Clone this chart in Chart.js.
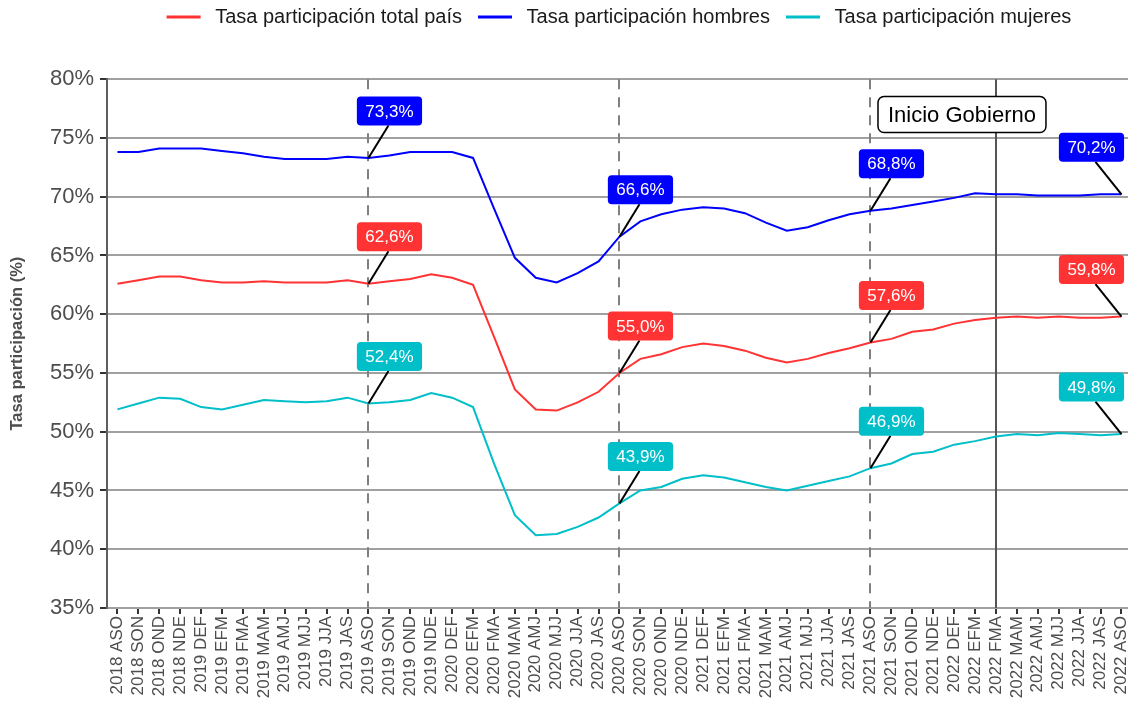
<!DOCTYPE html>
<html>
<head>
<meta charset="utf-8">
<script src="https://cdn.jsdelivr.net/npm/chart.js@4"></script>
<style>
  html, body { margin: 0; padding: 0; background: #fff; overflow: hidden; }
  #wrap { width: 1144px; height: 706px; }
</style>
</head>
<body>
<div id="wrap"><canvas id="c" width="1144" height="706"></canvas></div>
<script>
var periodos = [
    '2018 ASO', '2018 SON', '2018 OND', '2018 NDE',
    '2019 DEF', '2019 EFM', '2019 FMA', '2019 MAM', '2019 AMJ', '2019 MJJ', '2019 JJA', '2019 JAS',
    '2019 ASO', '2019 SON', '2019 OND', '2019 NDE',
    '2020 DEF', '2020 EFM', '2020 FMA', '2020 MAM', '2020 AMJ', '2020 MJJ', '2020 JJA', '2020 JAS',
    '2020 ASO', '2020 SON', '2020 OND', '2020 NDE',
    '2021 DEF', '2021 EFM', '2021 FMA', '2021 MAM', '2021 AMJ', '2021 MJJ', '2021 JJA', '2021 JAS',
    '2021 ASO', '2021 SON', '2021 OND', '2021 NDE',
    '2022 DEF', '2022 EFM', '2022 FMA', '2022 MAM', '2022 AMJ', '2022 MJJ', '2022 JJA', '2022 JAS',
    '2022 ASO'
];

var tasaTotal = [
    62.6, 62.9, 63.2, 63.2, 62.9, 62.7, 62.7, 62.8, 62.7, 62.7, 62.7, 62.9,
    62.6, 62.8, 63.0, 63.4, 63.1, 62.5, 58.1, 53.6, 51.9, 51.8, 52.5, 53.4,
    55.0, 56.2, 56.6, 57.2, 57.5, 57.3, 56.9, 56.3, 55.9, 56.2, 56.7, 57.1,
    57.6, 57.9, 58.5, 58.7, 59.2, 59.5, 59.7, 59.8, 59.7, 59.8, 59.7, 59.7, 59.8
];
var tasaHombres = [
    73.8, 73.8, 74.1, 74.1, 74.1, 73.9, 73.7, 73.4, 73.2, 73.2, 73.2, 73.4,
    73.3, 73.5, 73.8, 73.8, 73.8, 73.3, 69.0, 64.8, 63.1, 62.7, 63.5, 64.5,
    66.6, 67.9, 68.5, 68.9, 69.1, 69.0, 68.6, 67.8, 67.1, 67.4, 68.0, 68.5,
    68.8, 69.0, 69.3, 69.6, 69.9, 70.3, 70.2, 70.2, 70.1, 70.1, 70.1, 70.2, 70.2
];
var tasaMujeres = [
    51.9, 52.4, 52.9, 52.8, 52.1, 51.9, 52.3, 52.7, 52.6, 52.5, 52.6, 52.9,
    52.4, 52.5, 52.7, 53.3, 52.9, 52.1, 47.3, 42.9, 41.2, 41.3, 41.9, 42.7,
    43.9, 45.0, 45.3, 46.0, 46.3, 46.1, 45.7, 45.3, 45.0, 45.4, 45.8, 46.2,
    46.9, 47.3, 48.1, 48.3, 48.9, 49.2, 49.6, 49.8, 49.7, 49.9, 49.8, 49.7, 49.8
];

var yTicks = [35, 40, 45, 50, 55, 60, 65, 70, 75, 80];
var cortes = [12, 24, 36];          // ASO of each year (dashed)
var inicioGobierno = 42;            // 2022 FMA (solid)
var etiquetas = [12, 24, 36, 48];   // labelled points
var textoGobierno = 'Inicio Gobierno';
var yGobierno = 77;

Chart.defaults.font.family = '"Liberation Sans", Arial, sans-serif';

function fmt(v) {
    return v.toFixed(1).replace('.', ',') + '%';
}

function roundRect(ctx, x, y, w, h, r) {
    ctx.beginPath();
    ctx.moveTo(x + r, y);
    ctx.arcTo(x + w, y, x + w, y + h, r);
    ctx.arcTo(x + w, y + h, x, y + h, r);
    ctx.arcTo(x, y + h, x, y, r);
    ctx.arcTo(x, y, x + w, y, r);
    ctx.closePath();
}

var marcas = {
    id: 'marcas',
    beforeDatasetsDraw: function(chart) {
        var ctx = chart.ctx, a = chart.chartArea, x = chart.scales.x;
        ctx.save();
        ctx.lineWidth = 2;
        ctx.strokeStyle = '#808080';
        ctx.setLineDash([10, 8]);
        cortes.forEach(function(i) {
            var px = Math.round(x.getPixelForValue(i));
            ctx.beginPath();
            ctx.moveTo(px, a.top);
            ctx.lineTo(px, a.bottom);
            ctx.stroke();
        });
        ctx.setLineDash([]);
        ctx.strokeStyle = '#555555';
        var g = Math.round(x.getPixelForValue(inicioGobierno));
        ctx.beginPath();
        ctx.moveTo(g, a.top);
        ctx.lineTo(g, a.bottom);
        ctx.stroke();
        ctx.restore();
    },
    afterDatasetsDraw: function(chart) {
        var ctx = chart.ctx, x = chart.scales.x, y = chart.scales.y;
        var last = periodos.length - 1;
        ctx.save();
        ctx.font = '17px "Liberation Sans", Arial, sans-serif';
        ctx.textAlign = 'center';
        ctx.textBaseline = 'middle';
        chart.data.datasets.forEach(function(ds) {
            etiquetas.forEach(function(i) {
                var px = x.getPixelForValue(i);
                var py = y.getPixelForValue(ds.data[i]);
                var dx = (i === last) ? -30 : 21;
                var cx = px + dx, cy = py - 47;
                var txt = fmt(ds.data[i]);
                var w = ctx.measureText(txt).width + 17, h = 29;
                ctx.strokeStyle = '#000';
                ctx.lineWidth = 2;
                ctx.beginPath();
                ctx.moveTo(px, py);
                ctx.lineTo(px + (i === last ? -26 : 20), cy + h / 2);
                ctx.stroke();
                ctx.fillStyle = ds.borderColor;
                roundRect(ctx, cx - w / 2, cy - h / 2, w, h, 4);
                ctx.fill();
                ctx.fillStyle = '#ffffff';
                ctx.fillText(txt, cx, cy + 1);
            });
        });
        // caja "Inicio Gobierno"
        ctx.font = '22px "Liberation Sans", Arial, sans-serif';
        var gx = x.getPixelForValue(inicioGobierno) - 34;
        var gy = y.getPixelForValue(yGobierno);
        var gw = ctx.measureText(textoGobierno).width + 20, gh = 36;
        roundRect(ctx, gx - gw / 2, gy - gh / 2, gw, gh, 6);
        ctx.fillStyle = '#ffffff';
        ctx.fill();
        ctx.lineWidth = 1.5;
        ctx.strokeStyle = '#000';
        ctx.stroke();
        ctx.fillStyle = '#000';
        ctx.fillText(textoGobierno, gx, gy + 1);
        ctx.restore();
    }
};

function serie(label, data, color) {
    return {
        label: label,
        data: data,
        borderColor: color,
        backgroundColor: color,
        borderWidth: 2,
        pointRadius: 0,
        tension: 0,
        fill: false
    };
}

var chart = new Chart(document.getElementById('c').getContext('2d'), {
    type: 'line',
    data: {
        labels: periodos,
        datasets: [
            serie('Tasa participación total país', tasaTotal, '#ff3333'),
            serie('Tasa participación hombres', tasaHombres, '#0000ff'),
            serie('Tasa participación mujeres', tasaMujeres, '#00bfc9')
        ]
    },
    options: {
        responsive: false,
        animation: false,
        layout: { padding: { top: -10, right: 0, left: 0, bottom: 0 } },
        plugins: {
            legend: {
                position: 'top',
                fullSize: false,
                labels: {
                    boxWidth: 32,
                    boxHeight: 1,
                    padding: 17,
                    color: '#1a1a1a',
                    font: { size: 20 },
                    generateLabels: function(chart) {
                        var items = Chart.defaults.plugins.legend.labels.generateLabels(chart);
                        items.forEach(function(it) { it.text = ' ' + it.text; });
                        return items;
                    }
                }
            },
            title: {
                display: true,
                text: '',
                weight: 100,
                font: { size: 1 },
                padding: { top: 0, bottom: 41 }
            },
            tooltip: { enabled: false }
        },
        scales: {
            x: {
                offset: true,
                afterFit: function(s) { s.height = 98; },
                grid: { display: true, drawOnChartArea: false, color: '#9e9e9e', tickColor: '#333', tickLength: 6, lineWidth: 2 },
                border: { display: false },
                ticks: {
                    autoSkip: false,
                    maxRotation: 90,
                    minRotation: 90,
                    padding: 2,
                    color: '#4d4d4d',
                    font: { size: 17 }
                }
            },
            y: {
                min: 35,
                max: 80,
                afterFit: function(s) { s.width = 107; },
                afterBuildTicks: function(s) { s.ticks = yTicks.map(function(v) { return { value: v }; }); },
                grid: { color: '#a0a0a0', lineWidth: 2, tickColor: '#333', tickLength: 7 },
                border: { color: '#5f5f5f', width: 2 },
                title: {
                    display: true,
                    text: 'Tasa participación (%)',
                    color: '#4d4d4d',
                    font: { size: 16.5, weight: 'bold' },
                    padding: { top: 8, bottom: 0 }
                },
                ticks: {
                    padding: 6,
                    color: '#4d4d4d',
                    font: { size: 22 },
                    callback: function(v) { return v + '%'; }
                }
            }
        }
    },
    plugins: [marcas]
});
</script>
</body>
</html>
